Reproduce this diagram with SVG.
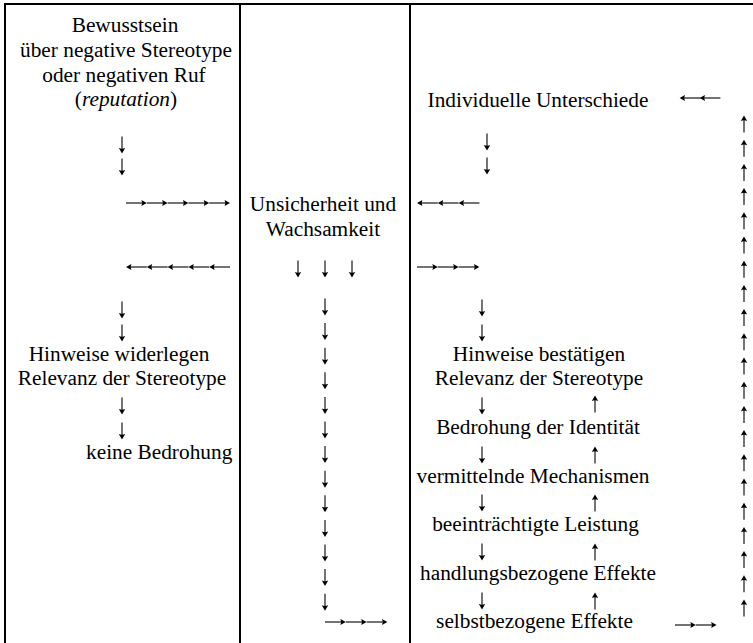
<svg xmlns="http://www.w3.org/2000/svg" xmlns:xlink="http://www.w3.org/1999/xlink" width="753" height="643" viewBox="0 0 753 643">
<style>
text{font-family:"Liberation Serif","Times New Roman",serif;font-size:21.33px;fill:#000}
.m{text-anchor:middle}
.l{stroke:#000;stroke-width:2;fill:none}
.s{stroke:#000;stroke-width:1.1;fill:none}
.h{fill:#000;stroke:none}
</style>
<defs>
<g id="ad"><path class="s" d="M0,-8.5V6"/><path class="h" d="M0,8.5L-3.2,3Q0,4.6 3.2,3Z"/></g>
<g id="au"><path class="s" d="M0,8.5V-6"/><path class="h" d="M0,-8.5L-3.2,-3Q0,-4.6 3.2,-3Z"/></g>
<g id="ar"><path class="s" d="M-10.4,0H8"/><path class="h" d="M10.4,0L5,-3Q6.6,0 5,3Z"/></g>
<g id="al"><path class="s" d="M10.4,0H-8"/><path class="h" d="M-10.4,0L-5,-3Q-6.6,0 -5,3Z"/></g>
</defs>
<rect width="753" height="643" fill="#fff"/>
<g id="table">
<path class="l" d="M4,4H753M5,3V643M240,3V643M410,3V643"/>
</g>
<g id="n-bewusstsein">
<text class="m" x="125" y="32">Bewusstsein</text>
<text class="m" x="126" y="57">über negative Stereotype</text>
<text class="m" x="124" y="82">oder negativen Ruf</text>
<text class="m" x="126" y="106">(<tspan font-style="italic">reputation</tspan>)</text>
</g>
<g id="n-unsicherheit">
<text class="m" x="323" y="211">Unsicherheit und</text>
<text class="m" x="323" y="236">Wachsamkeit</text>
</g>
<g id="n-individuell">
<text class="m" x="538" y="107">Individuelle Unterschiede</text>
</g>
<g id="n-widerlegen">
<text class="m" x="119" y="361">Hinweise widerlegen</text>
<text class="m" x="122" y="385">Relevanz der Stereotype</text>
</g>
<g id="n-keine">
<text x="86" y="459">keine Bedrohung</text>
</g>
<g id="n-bestaetigen">
<text class="m" x="539" y="361">Hinweise bestätigen</text>
<text class="m" x="539" y="385">Relevanz der Stereotype</text>
</g>
<g id="n-bedrohung"><text class="m" x="538" y="434">Bedrohung der Identität</text></g>
<g id="n-mechanismen"><text class="m" x="533" y="483">vermittelnde Mechanismen</text></g>
<g id="n-leistung"><text class="m" x="535.5" y="531">beeinträchtigte Leistung</text></g>
<g id="n-handlung"><text class="m" x="538" y="580">handlungsbezogene Effekte</text></g>
<g id="n-selbst"><text class="m" x="534.5" y="628">selbstbezogene Effekte</text></g>
<g id="connectors">
<!-- left column -->
<use xlink:href="#ad" x="122" y="145"/>
<use xlink:href="#ad" x="122" y="167"/>
<use xlink:href="#ar" x="136.4" y="203"/>
<use xlink:href="#ar" x="157.2" y="203"/>
<use xlink:href="#ar" x="178" y="203"/>
<use xlink:href="#ar" x="198.8" y="203"/>
<use xlink:href="#ar" x="219.6" y="203"/>
<use xlink:href="#al" x="136.4" y="267"/>
<use xlink:href="#al" x="157.2" y="267"/>
<use xlink:href="#al" x="178" y="267"/>
<use xlink:href="#al" x="198.8" y="267"/>
<use xlink:href="#al" x="219.6" y="267"/>
<use xlink:href="#ad" x="122" y="310"/>
<use xlink:href="#ad" x="122" y="333"/>
<use xlink:href="#ad" x="122" y="406"/>
<use xlink:href="#ad" x="122" y="431"/>
<!-- middle column -->
<use xlink:href="#ad" x="298" y="269"/>
<use xlink:href="#ad" x="325" y="269"/>
<use xlink:href="#ad" x="352" y="269"/>
<use xlink:href="#ad" x="325" y="307"/>
<use xlink:href="#ad" x="325" y="331.6"/>
<use xlink:href="#ad" x="325" y="356.2"/>
<use xlink:href="#ad" x="325" y="380.8"/>
<use xlink:href="#ad" x="325" y="405.4"/>
<use xlink:href="#ad" x="325" y="430"/>
<use xlink:href="#ad" x="325" y="454.6"/>
<use xlink:href="#ad" x="325" y="479.2"/>
<use xlink:href="#ad" x="325" y="503.8"/>
<use xlink:href="#ad" x="325" y="528.4"/>
<use xlink:href="#ad" x="325" y="553"/>
<use xlink:href="#ad" x="325" y="577.6"/>
<use xlink:href="#ad" x="325" y="602.2"/>
<use xlink:href="#ar" x="335.4" y="622"/>
<use xlink:href="#ar" x="356.2" y="622"/>
<use xlink:href="#ar" x="377" y="622"/>
<!-- right column -->
<use xlink:href="#al" x="690" y="98"/>
<use xlink:href="#al" x="710" y="98"/>
<use xlink:href="#ad" x="487" y="142"/>
<use xlink:href="#ad" x="487" y="166"/>
<use xlink:href="#al" x="427.4" y="203"/>
<use xlink:href="#al" x="448.2" y="203"/>
<use xlink:href="#al" x="469" y="203"/>
<use xlink:href="#ar" x="427.4" y="267"/>
<use xlink:href="#ar" x="448.2" y="267"/>
<use xlink:href="#ar" x="469" y="267"/>
<use xlink:href="#ad" x="482" y="308"/>
<use xlink:href="#ad" x="482" y="333"/>
<use xlink:href="#ad" x="482" y="406"/>
<use xlink:href="#au" x="595" y="404"/>
<use xlink:href="#ad" x="482" y="455"/>
<use xlink:href="#au" x="595" y="455"/>
<use xlink:href="#ad" x="482" y="503"/>
<use xlink:href="#au" x="595" y="503"/>
<use xlink:href="#ad" x="482" y="552"/>
<use xlink:href="#au" x="595" y="552"/>
<use xlink:href="#ad" x="482" y="601"/>
<use xlink:href="#au" x="595" y="601"/>
<use xlink:href="#ar" x="685.4" y="625"/>
<use xlink:href="#ar" x="706.2" y="625"/>
<!-- feedback column -->
<use xlink:href="#au" x="744" y="124"/>
<use xlink:href="#au" x="744" y="148.2"/>
<use xlink:href="#au" x="744" y="172.4"/>
<use xlink:href="#au" x="744" y="196.6"/>
<use xlink:href="#au" x="744" y="220.8"/>
<use xlink:href="#au" x="744" y="245"/>
<use xlink:href="#au" x="744" y="269.2"/>
<use xlink:href="#au" x="744" y="293.4"/>
<use xlink:href="#au" x="744" y="317.6"/>
<use xlink:href="#au" x="744" y="341.8"/>
<use xlink:href="#au" x="744" y="366"/>
<use xlink:href="#au" x="744" y="390.2"/>
<use xlink:href="#au" x="744" y="414.4"/>
<use xlink:href="#au" x="744" y="438.6"/>
<use xlink:href="#au" x="744" y="462.8"/>
<use xlink:href="#au" x="744" y="487"/>
<use xlink:href="#au" x="744" y="511.2"/>
<use xlink:href="#au" x="744" y="535.4"/>
<use xlink:href="#au" x="744" y="559.6"/>
<use xlink:href="#au" x="744" y="583.8"/>
<use xlink:href="#au" x="744" y="608"/>
</g>
</svg>
